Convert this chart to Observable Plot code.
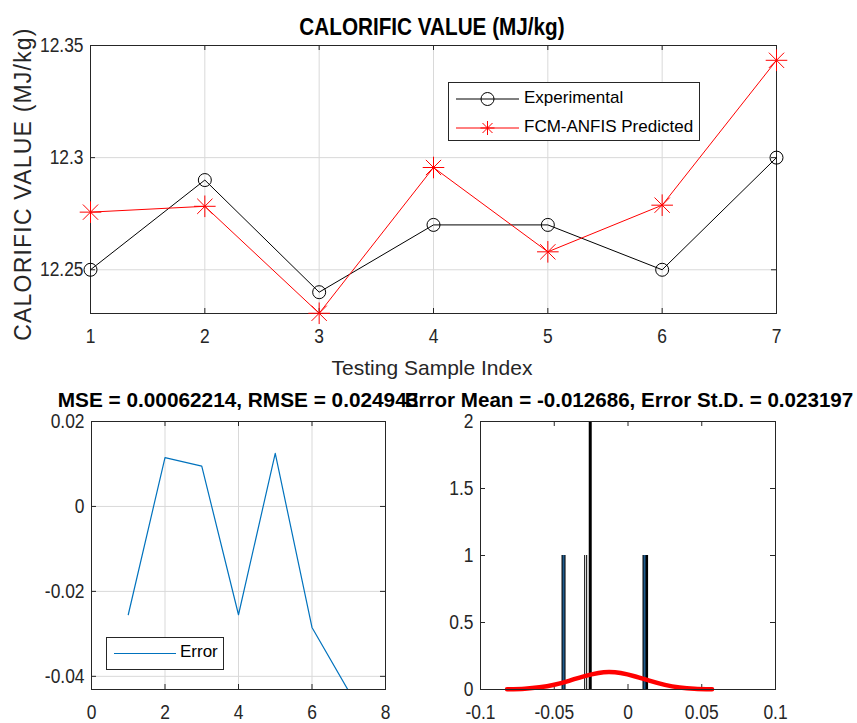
<!DOCTYPE html>
<html><head><meta charset="utf-8">
<script src="https://cdn.jsdelivr.net/npm/d3@7"></script>
<script src="https://cdn.jsdelivr.net/npm/@observablehq/plot@0.6"></script>
<style>
body{margin:0;background:#fff;}
#wrap{position:relative;width:857px;height:723px;overflow:hidden;font-family:"Liberation Sans",Arial,sans-serif;color:#262626;}
.title{position:absolute;font-weight:bold;color:#000;white-space:nowrap;}
.lbl{position:absolute;font-size:21px;color:#262626;white-space:nowrap;transform:translate(-50%,-50%);}
.ylbl{position:absolute;font-size:23px;letter-spacing:1.2px;color:#262626;white-space:nowrap;transform:translate(-50%,-50%) rotate(-90deg);}
.legend{position:absolute;border:1px solid #262626;background:#fff;font-size:17px;color:#000;}
.legend .row{position:absolute;white-space:nowrap;}
</style></head><body><div id="wrap"></div>
<script>
// ---- data ----
const sampleIndex = [1, 2, 3, 4, 5, 6, 7];
const experimental = [12.25, 12.29, 12.24, 12.27, 12.27, 12.25, 12.30];
const predicted = [12.2757, 12.2783, 12.2306, 12.2956, 12.258, 12.2788, 12.3434];
const errorValues = [-0.0255, 0.0115, 0.0095, -0.0255, 0.0125, -0.0285, -0.0435];
const histBlueCenters = [-0.0437, 0.0112];
const histBlueCounts = [1, 1];
const histEdgeCenters = [-0.0287, -0.0256, 0.0126];
const histEdgeCounts = [1, 2, 1];
const fitX = [-0.082, -0.07, -0.06, -0.05, -0.04, -0.03, -0.02, -0.0127, -0.005, 0.005, 0.015, 0.025, 0.035, 0.045, 0.057];
const fitY = [0.0015, 0.0061, 0.0163, 0.0357, 0.065, 0.0985, 0.1237, 0.13, 0.123, 0.0972, 0.0637, 0.0347, 0.0157, 0.0059, 0.0014];
const topXTicks = [1, 2, 3, 4, 5, 6, 7];
const topYTicks = [12.25, 12.3, 12.35];
const errXTicks = [0, 2, 4, 6, 8];
const errYTicks = [-0.04, -0.02, 0, 0.02];
const histXTicks = [-0.1, -0.05, 0, 0.05, 0.1];
const histYTicks = [0, 0.5, 1, 1.5, 2];

const wrap = document.getElementById("wrap");
const FONT = '"Liberation Sans",Arial,sans-serif';
const AX = "#262626";
const NARROW = 0.87;
const TICKFS = 20;

function inwardTicks(xt, yt, innerW, innerH) {
  const L = 5;
  return [
    Plot.ruleX(xt, {x: d => d, insetTop: innerH - L, stroke: AX}),
    Plot.ruleX(xt, {x: d => d, insetBottom: innerH - L, stroke: AX}),
    Plot.ruleY(yt, {y: d => d, insetRight: innerW - L, stroke: AX}),
    Plot.ruleY(yt, {y: d => d, insetLeft: innerW - L, stroke: AX})
  ];
}
function axes(xt, yt, padX) {
  return [
    Plot.axisX(xt, {tickSize: 0, tickPadding: padX, tickFormat: d => String(d), fill: AX, fontSize: TICKFS}),
    Plot.axisY(yt, {tickSize: 0, tickPadding: 7, tickFormat: d => String(d), fill: AX, fontSize: TICKFS})
  ];
}
function place(svg, left, top) {
  svg.querySelectorAll("text").forEach(t => {
    const tr = t.getAttribute("transform");
    if (tr) t.setAttribute("transform", tr + ` scale(${NARROW},1)`);
  });
  svg.style.position = "absolute";
  svg.style.left = left + "px";
  svg.style.top = top + "px";
  wrap.appendChild(svg);
}
function addTitle(text, x, y, size, sx) {
  const d = document.createElement("div");
  d.className = "title"; d.textContent = text;
  Object.assign(d.style, {left: x + "px", top: y + "px", fontSize: size + "px",
    transform: `translate(-50%,-50%) scaleX(${sx})`});
  wrap.appendChild(d);
}
function addDiv(cls, text, x, y) {
  const d = document.createElement("div");
  d.className = cls; d.textContent = text;
  d.style.left = x + "px"; d.style.top = y + "px";
  wrap.appendChild(d);
}
const plotStyle = {fontFamily: FONT, fontSize: TICKFS + "px", color: AX, background: "transparent", overflow: "visible"};

// ---- top plot ----
const rows = sampleIndex.map((x, i) => ({x, exp: experimental[i], pred: predicted[i]}));
{
  const W = 857, H = 370, mL = 90, mR = 81, mT = 45, mB = 57;
  const svg = Plot.plot({
    width: W, height: H, marginLeft: mL, marginRight: mR, marginTop: mT, marginBottom: mB,
    x: {domain: [1, 7], label: null},
    y: {domain: [12.2305, 12.35], label: null},
    style: plotStyle,
    marks: [
      Plot.gridX(topXTicks, {stroke: "#d9d9d9", strokeOpacity: 1}),
      Plot.gridY(topYTicks, {stroke: "#d9d9d9", strokeOpacity: 1}),
      ...inwardTicks(topXTicks, topYTicks, W - mL - mR, H - mT - mB),
      Plot.frame({stroke: AX}),
      ...axes(topXTicks, topYTicks, 15),
      Plot.line(rows, {x: "x", y: "exp", stroke: "#000", strokeWidth: 1}),
      Plot.dot(rows, {x: "x", y: "exp", r: 6.5, stroke: "#000", fill: "none", strokeWidth: 1}),
      Plot.line(rows, {x: "x", y: "pred", stroke: "#ff0000", strokeWidth: 1}),
      Plot.dot(rows, {x: "x", y: "pred", symbol: "plus", r: 7, stroke: "#ff0000", strokeWidth: 1}),
      Plot.dot(rows, {x: "x", y: "pred", symbol: "times", r: 7, stroke: "#ff0000", strokeWidth: 1})
    ]
  });
  place(svg, 0, 0);
}
addTitle("CALORIFIC VALUE (MJ/kg)", 432, 27, 23, 0.9);
addDiv("lbl", "Testing Sample Index", 432, 368);
addDiv("ylbl", "CALORIFIC VALUE (MJ/kg)", 22.5, 184);

// top legend
{
  const lg = document.createElement("div");
  lg.className = "legend";
  Object.assign(lg.style, {left: "448px", top: "82px", width: "250px", height: "57px"});
  lg.innerHTML =
    '<svg width="74" height="57" style="position:absolute;left:0;top:0">' +
    '<line x1="7" x2="70" y1="16" y2="16" stroke="#000"/>' +
    '<circle cx="38.5" cy="16" r="6.5" fill="none" stroke="#000"/>' +
    '<line x1="7" x2="70" y1="45" y2="45" stroke="#f00"/>' +
    '<path d="M38.5,38V52M31.5,45H45.5M33.5,40L43.5,50M43.5,40L33.5,50" stroke="#f00"/></svg>' +
    '<div class="row" style="left:75px;top:5px">Experimental</div>' +
    '<div class="row" style="left:75px;top:34px">FCM-ANFIS Predicted</div>';
  wrap.appendChild(lg);
}

// ---- bottom-left error plot ----
const errRows = sampleIndex.map((x, i) => ({x, e: errorValues[i]}));
{
  const W = 430, H = 323, mL = 91, mR = 45, mT = 21, mB = 34;
  const svg = Plot.plot({
    width: W, height: H, marginLeft: mL, marginRight: mR, marginTop: mT, marginBottom: mB,
    x: {domain: [0, 8], label: null},
    y: {domain: [-0.0431, 0.02], label: null},
    style: plotStyle,
    marks: [
      Plot.gridX(errXTicks, {stroke: "#d9d9d9", strokeOpacity: 1}),
      Plot.gridY(errYTicks, {stroke: "#d9d9d9", strokeOpacity: 1}),
      ...inwardTicks(errXTicks, errYTicks, W - mL - mR, H - mT - mB),
      Plot.frame({stroke: AX}),
      ...axes(errXTicks, errYTicks, 15),
      Plot.line(errRows, {x: "x", y: "e", stroke: "#0072BD", strokeWidth: 1.2, clip: true})
    ]
  });
  place(svg, 0, 400);
}
addTitle("MSE = 0.00062214, RMSE = 0.024943", 238, 400, 21, 0.99);
{
  const lg = document.createElement("div");
  lg.className = "legend";
  Object.assign(lg.style, {left: "106px", top: "637px", width: "116px", height: "31px"});
  lg.innerHTML =
    '<svg width="70" height="31" style="position:absolute;left:0;top:0">' +
    '<line x1="7" x2="69" y1="15.5" y2="15.5" stroke="#0072BD" stroke-width="1.2"/></svg>' +
    '<div class="row" style="left:73px;top:4px">Error</div>';
  wrap.appendChild(lg);
}

// ---- bottom-right histogram ----
const blueRows = histBlueCenters.map((x, i) => ({x, c: histBlueCounts[i]}));
const edgeRows = histEdgeCenters.map((x, i) => ({x, c: histEdgeCounts[i]}));
const fitRows = fitX.map((x, i) => ({x, y: fitY[i]}));
{
  const W = 427, H = 323, mL = 50, mR = 82, mT = 21, mB = 34;
  const svg = Plot.plot({
    width: W, height: H, marginLeft: mL, marginRight: mR, marginTop: mT, marginBottom: mB,
    x: {domain: [-0.1, 0.1], label: null},
    y: {domain: [0, 2], label: null},
    style: plotStyle,
    marks: [
      ...inwardTicks(histXTicks, histYTicks, W - mL - mR, H - mT - mB),
      Plot.ruleX(edgeRows, {x: "x", y1: 0, y2: "c", stroke: "#000", strokeWidth: 3}),
      Plot.ruleX(edgeRows.filter(d => d.c === 1 && d.x < 0), {x: "x", y1: 0, y2: "c", stroke: "#fff", strokeWidth: 1, insetTop: 1}),
      Plot.ruleX(blueRows, {x: "x", y1: 0, y2: "c", stroke: "#000", strokeWidth: 4}),
      Plot.ruleX(blueRows, {x: "x", y1: 0, y2: "c", stroke: "#1f5b8c", strokeWidth: 2}),
      Plot.line(fitRows, {x: "x", y: "y", stroke: "#ff0000", strokeWidth: 4.5, curve: "natural"}),
      Plot.frame({stroke: AX}),
      ...axes(histXTicks, histYTicks, 15)
    ]
  });
  place(svg, 430, 400);
}
addTitle("Error Mean = -0.012686, Error St.D. = 0.023197", 629, 400, 21, 0.98);
</script></body></html>
